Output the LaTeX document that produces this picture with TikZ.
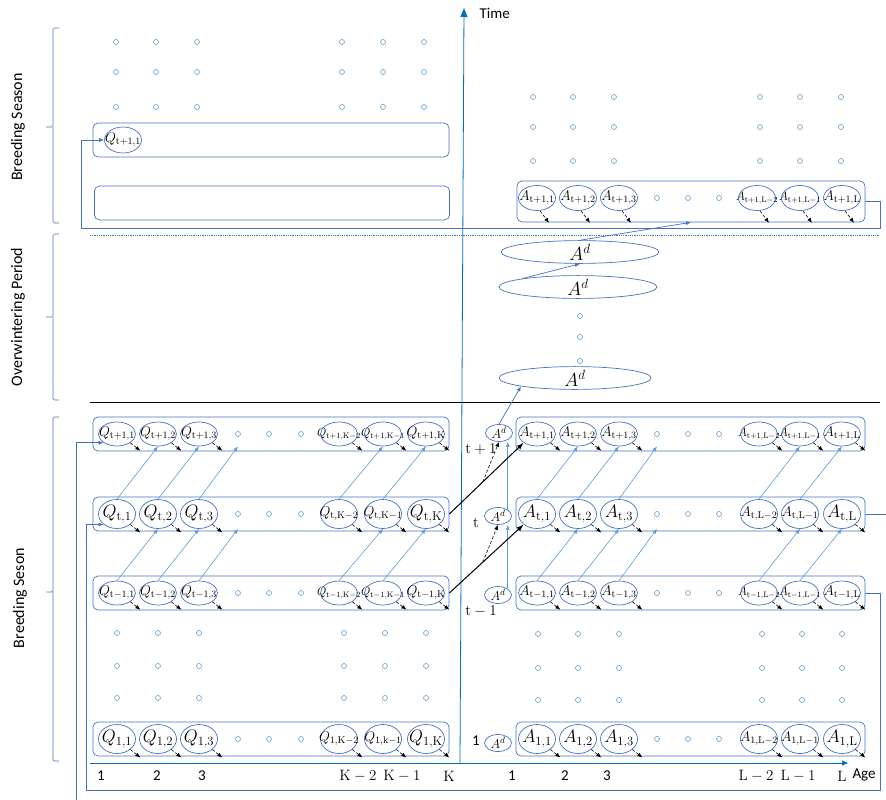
\RequirePackage{fix-cm}
\documentclass[tikz,border=0pt]{standalone}
\usepackage[no-math]{fontspec}
\setmainfont{Carlito}
\usetikzlibrary{arrows.meta,shapes.geometric}
\definecolor{boxBlue}{HTML}{4472C4}
\definecolor{stepBlue}{HTML}{5B9BD5}
\definecolor{axisBlue}{HTML}{0070C0}
\newcommand\cellbig{\fontsize{18}{19}\selectfont}
\newcommand\cellmid{\fontsize{14}{15}\selectfont}
\newcommand\cellsmall{\fontsize{12}{13}\selectfont}

\begin{document}
\begin{tikzpicture}[
  x=1pt, y=-1pt,
  >=Latex,
  rowbox/.style={draw=boxBlue, rounded corners=5pt, line width=0.7pt, inner sep=0pt},
  cell/.style={ellipse, draw=boxBlue, line width=0.7pt, inner sep=0pt,
               minimum width=37pt, minimum height=24pt},
  bigcell/.style={cell, minimum height=29pt},
  adcell/.style={ellipse, draw=boxBlue, line width=0.7pt, inner sep=0pt,
                 minimum width=27pt, minimum height=17pt, font=\fontsize{13}{14}\selectfont},
  winter/.style={ellipse, draw=boxBlue, line width=0.7pt, inner sep=0pt,
                 minimum width=158pt, minimum height=20pt, font=\fontsize{19}{20}\selectfont},
  gapdot/.style={circle, draw=stepBlue, line width=0.6pt, minimum size=5pt, inner sep=0pt},
  steparr/.style={-{Latex[length=5pt,width=4pt]}, draw=stepBlue, line width=0.6pt},
  mortarr/.style={-{Latex[length=5pt,width=4pt]}, densely dashed, line width=0.6pt},
  crossarr/.style={-{Latex[length=7pt,width=5pt]}, line width=1pt},
  wraparr/.style={-{Latex[length=5pt,width=4pt]}, draw=boxBlue, line width=0.7pt},
  axisarr/.style={-{Triangle[length=9pt,width=7pt]}, draw=axisBlue, line width=0.8pt},
  axislab/.style={font=\fontsize{15}{16}\selectfont},
  ticklab/.style={font=\fontsize{15}{16}\selectfont},
  season/.style={rotate=90, font=\fontsize{16}{17}\selectfont},
  brace/.style={draw=boxBlue, line width=0.7pt, rounded corners=1.5pt}
]
\useasboundingbox (0,0) rectangle (886,800);

% seasons on the left
\draw[brace] (59,28) -- (53,28) -- (53,127) -- (46,127) (53,127) -- (53,223) -- (59,223);
\draw[brace] (59,234) -- (53,234) -- (53,317) -- (46,317) (53,317) -- (53,400) -- (59,400);
\draw[brace] (59,417) -- (53,417) -- (53,592) -- (46,592) (53,592) -- (53,761) -- (59,761);
\node[season] (lab-bs1) at (18,127) {Breeding Season};
\node[season] (lab-ow) at (18,317) {Overwintering Period};
\node[season] (lab-bs2) at (20,598) {Breeding Seson};

% separators
\draw[boxBlue, densely dotted, line width=0.8pt] (90,235) -- (880,235);
\draw[line width=0.7pt] (90,402) -- (880,402);

% axes
\coordinate (origin) at (460,763);
\coordinate (timeTop) at (464,8);
\coordinate (ageStart) at (90,763);
\coordinate (ageEnd) at (848,763);
\draw[axisarr] (origin) -- (timeTop);
\draw[axisarr, -{Triangle[length=6pt,width=5pt]}] (ageStart) -- (ageEnd);
\node[axislab, anchor=west] (timelab) at (476,13) {Time};
\node[axislab, anchor=west] (agelab) at (849,775) {Age};
\foreach \x/\t [count=\k] in {101/1,157/2,202/3,358/{$\mathrm{K}-2$},402/{$\mathrm{K}-1$},449/{$\mathrm{K}$}}
  \node[ticklab] (qtick-\k) at (\x,776) {\t};
\foreach \x/\t [count=\k] in {512/1,565/2,607/3,756/{$\mathrm{L}-2$},798/{$\mathrm{L}-1$},842/{$\mathrm{L}$}}
  \node[ticklab] (atick-\k) at (\x,776) {\t};

% upper breeding season
\foreach \y in {42,72,107} \foreach \x in {116,156,197,342,383,424}
  \node[gapdot] (tl-\x-\y) at (\x,\y) {};
\foreach \y in {97,127,161} \foreach \x in {533,573,614,760,800,841}
  \node[gapdot] (tr-\x-\y) at (\x,\y) {};
\node[rowbox, minimum width=356pt, minimum height=34pt] (qbox-top) at (271,140) {};
\node[rowbox, minimum width=355pt, minimum height=34pt] (qbox-empty) at (272,203) {};
\node[cell, minimum height=26pt, font=\cellmid] (q-top-1) at (123,140) {\makebox[0pt]{$Q_{\mathrm{t+1,1}}$}};
\node[rowbox, minimum width=348pt, minimum height=41pt] (abox-up) at (691,201.5) {};
\foreach \x/\i/\c/\fnt in {537/1/1/\cellmid,578/2/2/\cellmid,619/3/3/\cellmid,757/4/L-2/\cellsmall,800/5/L-1/\cellsmall,842/6/L/\cellmid}
  \node[cell, minimum height=25pt, font=\fnt] (a-up-\i) at (\x,198) {\makebox[0pt]{$A_{\mathrm{t+1,\c}}$}};
\foreach \x [count=\k] in {657,688,719}
  \node[gapdot] (a-up-d\k) at (\x,198) {};
\foreach \i in {1,...,6}
  \draw[mortarr] (a-up-\i.south) ++(3,0) -- ++(9,12);

% overwintering
\node[winter] (ow1) at (580,252) {$A^d$};
\node[winter] (ow2) at (578,287) {$A^d$};
\node[winter, minimum width=152pt, minimum height=16pt] (ow3) at (575,378) {$A^d$};
\foreach \y [count=\k] in {316,337,361}
  \node[gapdot] (ow-d\k) at (580,\y) {};
\draw[wraparr] (ow2.north west) -- (ow1.south);
\draw[wraparr] (ow1.north) -- (abox-up.south);

% lower breeding season: boxes
\foreach \r/\y in {tp/434,t0/514,tm/593,o/739} {
  \node[rowbox, minimum width=356pt, minimum height=34pt] (qbox-\r) at (271,\y) {};
  \node[rowbox, minimum width=349pt, minimum height=34pt] (abox-\r) at (690.5,\y) {};
  \foreach \x [count=\k] in {238,269,301}
    \node[gapdot] (q-\r-d\k) at (\x,\y) {};
  \foreach \x [count=\k] in {657,688,719}
    \node[gapdot] (a-\r-d\k) at (\x,\y) {};
}
\foreach \y in {633,666,698} \foreach \x in {117,158,199,344,385,426}
  \node[gapdot] (ql-\x-\y) at (\x,\y) {};
\foreach \y in {634,668,700} \foreach \x in {538,578,619,762,802,842}
  \node[gapdot] (ar-\x-\y) at (\x,\y) {};

% females Q
\foreach \r/\y/\s in {tp/434/t+1,tm/593/t-1}
  \foreach \x/\i/\c/\fnt in {117/1/1/\cellmid,158/2/2/\cellmid,199/3/3/\cellmid,339/4/K-2/\cellsmall,383/5/K-1/\cellsmall,426/6/K/\cellmid}
    \node[cell, font=\fnt] (q-\r-\i) at (\x,\y) {\makebox[0pt]{$Q_{\mathrm{\s,\c}}$}};
\foreach \x/\i/\c/\fnt in {117/1/1/\cellbig,158/2/2/\cellbig,199/3/3/\cellbig,339/4/K-2/\cellmid,383/5/K-1/\cellmid,426/6/K/\cellbig}
  \node[bigcell, font=\fnt] (q-t0-\i) at (\x,514) {\makebox[0pt]{$Q_{\mathrm{t,\c}}$}};
\foreach \x/\i/\c/\fnt in {117/1/1/\cellbig,158/2/2/\cellbig,199/3/3/\cellbig,339/4/K-2/\cellmid,383/5/k-1/\cellmid,426/6/K/\cellbig}
  \node[bigcell, font=\fnt] (q-o-\i) at (\x,739) {\makebox[0pt]{$Q_{\mathrm{1,\c}}$}};

% adults A
\foreach \r/\y/\s in {tp/434/t+1,tm/593/t-1}
  \foreach \x/\i/\c/\fnt in {537/1/1/\cellmid,578/2/2/\cellmid,619/3/3/\cellmid,759/4/L-2/\cellsmall,800/5/L-1/\cellsmall,842/6/L/\cellmid}
    \node[cell, font=\fnt] (a-\r-\i) at (\x,\y) {\makebox[0pt]{$A_{\mathrm{\s,\c}}$}};
\foreach \r/\y/\s in {t0/514/t,o/739/1}
  \foreach \x/\i/\c/\fnt in {537/1/1/\cellbig,578/2/2/\cellbig,619/3/3/\cellbig,759/4/L-2/\cellmid,800/5/L-1/\cellmid,842/6/L/\cellbig}
    \node[bigcell, font=\fnt] (a-\r-\i) at (\x,\y) {\makebox[0pt]{$A_{\mathrm{\s,\c}}$}};

% deaths
\foreach \r in {tp,t0,tm,o} \foreach \i in {1,...,6} {
  \draw[mortarr] (q-\r-\i.south east) -- ++(10,8);
  \draw[mortarr] (a-\r-\i.south east) -- ++(10,8);
}

% ageing one year on
\foreach \lo/\hi in {t0/tp,tm/t0} {
  \foreach \i/\j in {1/2,2/3,4/5,5/6} {
    \draw[steparr] (q-\lo-\i.north) -- (q-\hi-\j.south);
    \draw[steparr] (a-\lo-\i.north) -- (a-\hi-\j.south);
  }
  \draw[steparr] (q-\lo-3.north) -- (q-\hi-d1 |- q-\hi-3.south);
  \draw[steparr] (a-\lo-3.north) -- (a-\hi-d1 |- a-\hi-3.south);
}

% diapause column
\node[adcell] (ad-tp) at (499,433) {$A^d$};
\node[adcell] (ad-t0) at (498,516) {$A^d$};
\node[adcell] (ad-tm) at (498,595) {$A^d$};
\node[adcell] (ad-o) at (498,743) {$A^d$};
\node[ticklab] (row-tp) at (481,449) {$\mathrm{t}+1$};
\node[ticklab] (row-t0) at (476,523) {$\mathrm{t}$};
\node[ticklab] (row-tm) at (481,611) {$\mathrm{t}-1$};
\node[ticklab] (row-o) at (476,741) {1};
\draw[steparr] (ad-tm.north east) -- (ad-tm.north east |- ad-t0.south);
\draw[steparr] (ad-t0.north east) -- (ad-t0.north east |- ad-tp.south);
\draw[wraparr] (ad-tp.north) -- (ow3.south west);

% females to adults
\draw[crossarr] (qbox-t0.east) -- coordinate[pos=0.45] (mid-tp) (a-tp-1.south west);
\draw[crossarr] (qbox-tm.east) -- coordinate[pos=0.45] (mid-t0) (a-t0-1.south west);
\draw[mortarr] (mid-tp) -- (ad-tp.south);
\draw[mortarr] (mid-t0) -- (ad-t0.south);

% new generations
\coordinate (wrapR) at (880,228);
\coordinate (wrapL) at (81,228);
\draw[wraparr] (abox-up.east) -| (wrapR) -- (wrapL) |- (q-top-1.west);
\coordinate (loopR) at (880,790);
\coordinate (loopL) at (86,790);
\draw[wraparr] (abox-tm.east) -| (loopR) -- (loopL) |- (q-t0-1.south west);
\coordinate (exitR) at (886,514);
\draw[draw=boxBlue, line width=0.7pt] (abox-t0.east) -- (exitR);
\coordinate (enterB) at (76,800);
\draw[wraparr] (enterB) |- (q-tp-1.south west);
\end{tikzpicture}
\end{document}
